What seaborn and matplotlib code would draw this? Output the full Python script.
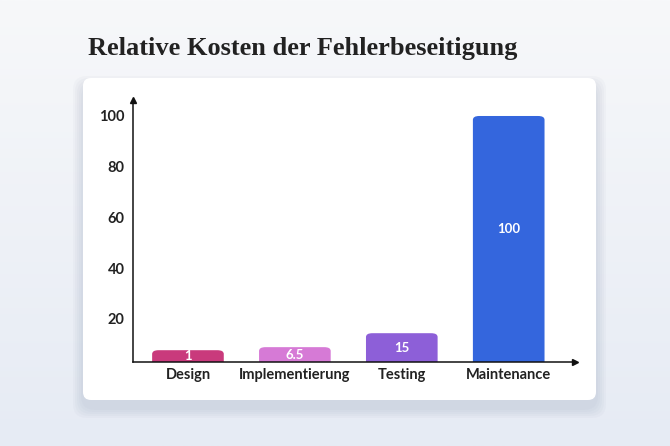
import matplotlib
matplotlib.use("Agg")
import matplotlib.pyplot as plt
import seaborn as sns
import numpy as np
import pandas as pd
from matplotlib.patches import FancyBboxPatch

# Data
phases = ["Design", "Implementierung", "Testing", "Maintenance"]
cost_labels = ["1", "6.5", "15", "100"]
cost_values = [1, 6.5, 15, 100]
# heights as shown in the picture (small bars get a minimum visible height)
shown_heights = [7.7, 8.9, 14.4, 100]
bar_colors = ["#c93a7c", "#d67ad6", "#8d5fd8", "#3466dd"]
y_ticks = [20, 40, 60, 80, 100]

W, H = 670, 446
fig = plt.figure(figsize=(W / 100, H / 100), dpi=100)

# background gradient
bg = fig.add_axes([0, 0, 1, 1])
grad = np.linspace(0, 1, 256).reshape(-1, 1)
cmap = matplotlib.colors.LinearSegmentedColormap.from_list("bg", ["#f7f8fa", "#e6ebf4"])
bg.imshow(grad, aspect="auto", cmap=cmap, extent=[0, W, H, 0])
bg.set_xlim(0, W)
bg.set_ylim(H, 0)
bg.axis("off")

# card shadow + card
for i in range(5):
    s = 4 + i * 4
    bg.add_patch(FancyBboxPatch((83 - s / 2, 86 - s / 2), 513 + s, 322 + s,
                                boxstyle="round,pad=0,rounding_size=14",
                                fc="#5a6a90", ec="none", alpha=0.03))
bg.add_patch(FancyBboxPatch((83, 78), 513, 322, boxstyle="round,pad=0,rounding_size=8",
                            fc="white", ec="none"))
bg.text(88, 48, "Relative Kosten der Fehlerbeseitigung", fontsize=19, fontweight="bold",
        family="Liberation Serif", color="#222222", va="center", ha="left")

ax = fig.add_axes([133 / W, 1 - 362 / H, (575 - 133) / W, (362 - 100) / H])
ax.patch.set_alpha(0)
df = pd.DataFrame({"phase": phases, "h": shown_heights})
sns.barplot(data=df, x="phase", y="h", ax=ax, width=0.67, palette=bar_colors,
            hue="phase", legend=False)

# replace bars with rounded ones
for p, c, lab, h in zip(list(ax.patches), bar_colors, cost_labels, shown_heights):
    x0, w = p.get_x(), p.get_width()
    p.set_visible(False)
    ax.add_patch(FancyBboxPatch((x0, 0), w, h, boxstyle="round,pad=0,rounding_size=0.06",
                                mutation_aspect=25, fc=c, ec="none", clip_on=True))
    ty = (3.05 + h) / 2 + (4 if h > 50 else 0)
    ax.text(x0 + w / 2, ty, lab, color="white", fontsize=9.5,
            fontweight="bold", family="Lato", ha="center", va="center")

ax.set_xlim(-0.514, 3.62)
ax.set_ylim(3.05, 106.3)
ax.set_yticks(y_ticks)
ax.set_xlabel("")
ax.set_ylabel("")
for s in ["top", "right"]:
    ax.spines[s].set_visible(False)
for s in ["left", "bottom"]:
    ax.spines[s].set_color("#111111")
    ax.spines[s].set_linewidth(1.1)
ax.tick_params(axis="both", length=0, labelsize=10.5, pad=6)
for t in ax.get_xticklabels() + ax.get_yticklabels():
    t.set_fontweight("bold")
    t.set_family("Lato")
    t.set_color("#222222")
ax.tick_params(axis="x", pad=4)
# arrowheads
ax.plot(1, 0, ">", transform=ax.transAxes, color="#111111", ms=4, clip_on=False)
ax.plot(0, 1, "^", transform=ax.transAxes, color="#111111", ms=4, clip_on=False)

fig.savefig("out.png", dpi=100)
